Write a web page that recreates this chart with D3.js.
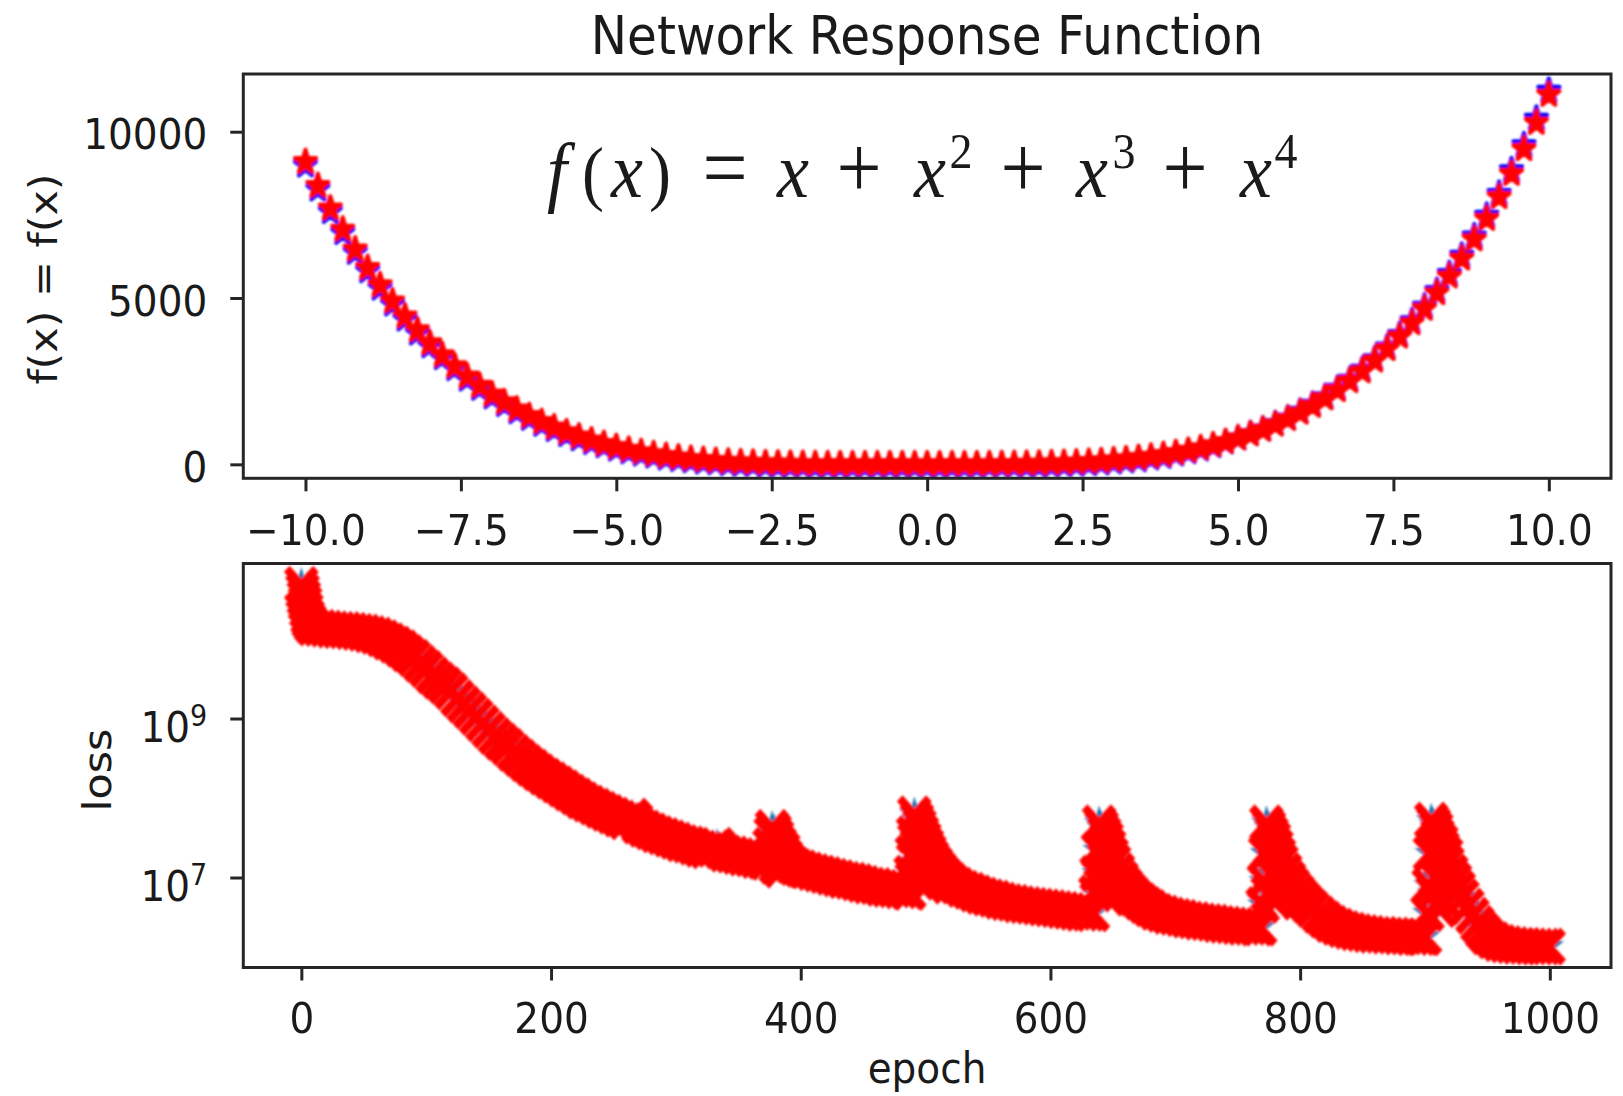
<!DOCTYPE html>
<html>
<head>
<meta charset="utf-8">
<script src="https://cdn.jsdelivr.net/npm/d3@7"></script>
<style>
  html, body { margin: 0; padding: 0; background: #fff; }
  svg { display: block; }
  text { font-family: "DejaVu Sans", sans-serif; fill: #1a1a1a; }
</style>
</head>
<body>
<div id="chart"></div>
<script>
// ---- data ----
const xValues = [-10, -9.8, -9.6, -9.4, -9.2, -9, -8.8, -8.6, -8.4, -8.2, -8, -7.8, -7.6, -7.4, -7.2, -7, -6.8, -6.6, -6.4, -6.2,
  -6, -5.8, -5.6, -5.4, -5.2, -5, -4.8, -4.6, -4.4, -4.2, -4, -3.8, -3.6, -3.4, -3.2, -3, -2.8, -2.6, -2.4, -2.2,
  -2, -1.8, -1.6, -1.4, -1.2, -1, -0.8, -0.6, -0.4, -0.2, 0, 0.2, 0.4, 0.6, 0.8, 1, 1.2, 1.4, 1.6, 1.8,
  2, 2.2, 2.4, 2.6, 2.8, 3, 3.2, 3.4, 3.6, 3.8, 4, 4.2, 4.4, 4.6, 4.8, 5, 5.2, 5.4, 5.6, 5.8,
  6, 6.2, 6.4, 6.6, 6.8, 7, 7.2, 7.4, 7.6, 7.8, 8, 8.2, 8.4, 8.6, 8.8, 9, 9.2, 9.4, 9.6, 9.8, 10]

// red stars
const fTarget = [9090, 8369, 7691, 7056, 6461, 5904, 5384, 4899, 4448, 4029, 3640, 3280, 2947, 2641, 2359, 2100, 1863, 1647, 1450, 1272,
  1110, 964, 834, 717, 612, 520, 438, 367, 305, 251, 204, 164, 131, 102, 79, 60, 45, 32, 23, 15,
  10, 6, 3, 2, 1, 0, 0, 0, 0, 0, 0, 0, 1, 1, 2, 4, 6, 10, 15, 21,
  30, 41, 55, 73, 94, 120, 151, 188, 231, 282, 340, 407, 484, 571, 669, 780, 904, 1042, 1196, 1366,
  1554, 1761, 1987, 2235, 2506, 2800, 3120, 3466, 3841, 4245, 4680, 5147, 5650, 6189, 6765, 7380, 8036, 8736, 9480, 10271, 11110]

// blue stars (network output)
const fNetwork = [8990, 8270, 7590, 6960, 6370, 5810, 5290, 4810, 4360, 3940, 3560, 3200, 2870, 2560, 2280, 2020, 1790, 1570, 1380, 1200,
  1040, 890, 760, 650, 550, 450, 370, 300, 240, 180, 140, 100, 60, 40, 10, -10, -20, -40, -50, -60,
  -60, -70, -70, -70, -70, -70, -70, -70, -70, -70, -70, -70, -70, -70, -70, -60, -60, -60, -60, -50,
  -40, -30, -10, 10, 30, 60, 90, 130, 180, 230, 300, 370, 450, 550, 660, 780, 910, 1050, 1210, 1380,
  1580, 1790, 2020, 2270, 2540, 2840, 3160, 3510, 3890, 4300, 4740, 5210, 5720, 6270, 6850, 7470, 8130, 8840, 9590, 10390, 11230]

const epochs = [0, 1, 2, 3, 4, 5, 6, 8, 10, 15, 20, 25, 30, 35, 40, 45, 50, 55, 60, 65,
  70, 75, 80, 85, 90, 95, 100, 105, 110, 115, 120, 125, 130, 135, 140, 145, 150, 155, 160, 165,
  170, 175, 180, 185, 190, 195, 200, 205, 210, 215, 220, 225, 230, 235, 240, 245, 250, 255, 260, 265,
  268, 270, 275, 280, 285, 290, 295, 300, 305, 310, 315, 320, 325, 330, 333, 336, 340, 345, 350, 355,
  360, 365, 370, 373, 375, 376, 377, 378, 379, 380, 381, 383, 384, 386, 388, 390, 393, 396, 400, 405,
  410, 415, 420, 425, 430, 435, 440, 445, 450, 455, 460, 465, 470, 475, 480, 485, 487, 488, 489, 490,
  491, 492, 493, 494, 495, 496, 497, 499, 500, 501, 503, 504, 505, 508, 511, 514, 517, 520, 525, 530,
  535, 540, 545, 550, 555, 560, 565, 570, 575, 580, 585, 590, 595, 600, 605, 610, 615, 620, 625, 630,
  634, 636, 637, 638, 639, 640, 641, 642, 643, 645, 646, 647, 649, 650, 651, 654, 657, 660, 664, 668,
  672, 676, 680, 685, 690, 695, 700, 705, 710, 715, 720, 725, 730, 735, 740, 745, 750, 755, 760, 765,
  768, 770, 771, 772, 773, 774, 775, 776, 777, 779, 780, 781, 783, 784, 785, 788, 791, 794, 798, 802,
  806, 810, 815, 820, 825, 830, 835, 840, 845, 850, 855, 860, 865, 870, 875, 880, 885, 890, 895, 898,
  900, 902, 903, 904, 905, 906, 907, 908, 909, 910, 912, 913, 914, 916, 917, 918, 921, 924, 927, 930,
  934, 938, 942, 946, 950, 955, 960, 965, 970, 975, 980, 985, 990, 995, 999]

const loss = [4.8e10, 4.0e10, 3.3e10, 2.8e10, 2.3e10, 1.9e10, 1.7e10, 1.5e10, 1.4e10, 1.38e10, 1.35e10, 1.32e10, 1.3e10, 1.29e10, 1.26e10, 1.23e10, 1.2e10, 1.15e10, 1.1e10, 1.02e10,
  9.3e9, 8.5e9, 7.6e9, 6.6e9, 5.8e9, 4.9e9, 4.2e9, 3.5e9, 3.0e9, 2.6e9, 2.2e9, 1.8e9, 1.5e9, 1.26e9, 1.05e9, 8.7e8, 7.2e8, 6.0e8, 5.1e8, 4.4e8,
  3.7e8, 3.2e8, 2.75e8, 2.4e8, 2.1e8, 1.86e8, 1.66e8, 1.48e8, 1.32e8, 1.17e8, 1.05e8, 9.3e7, 8.5e7, 7.8e7, 7.1e7, 6.5e7, 6.0e7, 5.5e7, 5.1e7, 5.8e7,
  5.2e7, 4.5e7, 4.1e7, 3.8e7, 3.5e7, 3.3e7, 3.1e7, 2.9e7, 2.7e7, 2.6e7, 2.45e7, 2.3e7, 2.2e7, 2.3e7, 2.5e7, 2.2e7, 2.0e7, 1.95e7, 1.86e7, 1.78e7,
  1.74e7, 1.66e7, 1.62e7, 1.58e7, 2.5e7, 3.5e7, 4.2e7, 2.0e7, 3.8e7, 1.4e7, 3.2e7, 2.6e7, 1.26e7, 2.2e7, 1.8e7, 1.58e7, 1.45e7, 1.35e7, 1.3e7, 1.23e7,
  1.17e7, 1.12e7, 1.07e7, 1.02e7, 9.8e6, 9.3e6, 9.1e6, 8.7e6, 8.3e6, 7.9e6, 7.8e6, 7.4e6, 7.2e6, 7.1e6, 6.9e6, 6.8e6, 6.6e6, 1.12e7, 2.0e7, 3.5e7,
  6.2e7, 1.58e7, 5.2e7, 8.9e6, 4.4e7, 1.26e7, 3.6e7, 3.0e7, 7.9e6, 2.5e7, 2.1e7, 1.0e7, 1.78e7, 1.48e7, 1.26e7, 1.1e7, 9.8e6, 8.9e6, 7.9e6, 7.2e6,
  6.8e6, 6.3e6, 5.9e6, 5.6e6, 5.4e6, 5.1e6, 4.9e6, 4.8e6, 4.6e6, 4.5e6, 4.4e6, 4.3e6, 4.2e6, 4.1e6, 4.0e6, 3.9e6, 3.8e6, 3.7e6, 3.6e6, 3.6e6,
  3.55e6, 6.3e6, 1.12e7, 2.2e7, 4.8e7, 7.9e6, 4.2e7, 1.26e7, 3.5e7, 3.0e7, 5.6e6, 2.4e7, 1.9e7, 7.1e6, 1.55e7, 1.2e7, 9.5e6, 7.9e6, 6.6e6, 5.6e6,
  5.0e6, 4.5e6, 4.1e6, 3.7e6, 3.5e6, 3.3e6, 3.2e6, 3.1e6, 2.95e6, 2.9e6, 2.8e6, 2.75e6, 2.7e6, 2.6e6, 2.55e6, 2.5e6, 2.45e6, 2.4e6, 2.4e6, 2.35e6,
  2.35e6, 4.5e6, 8.9e6, 2.0e7, 4.8e7, 6.3e6, 4.2e7, 1.12e7, 3.5e7, 3.0e7, 5.0e6, 2.4e7, 1.9e7, 6.3e6, 1.55e7, 1.2e7, 9.5e6, 7.9e6, 6.5e6, 5.4e6,
  4.6e6, 4.0e6, 3.4e6, 2.95e6, 2.6e6, 2.4e6, 2.24e6, 2.14e6, 2.05e6, 2.0e6, 1.95e6, 1.9e6, 1.9e6, 1.86e6, 1.86e6, 1.82e6, 1.82e6, 1.78e6, 1.78e6, 1.78e6,
  1.78e6, 3.55e6, 7.9e6, 2.0e7, 5.2e7, 6.3e6, 4.6e7, 1.0e7, 4.0e7, 3.3e7, 4.0e6, 2.75e7, 2.3e7, 5.0e6, 1.9e7, 1.48e7, 1.15e7, 9.1e6, 7.2e6, 5.6e6,
  4.3e6, 3.3e6, 2.6e6, 2.14e6, 1.82e6, 1.62e6, 1.5e6, 1.45e6, 1.41e6, 1.38e6, 1.38e6, 1.36e6, 1.35e6, 1.35e6, 1.35e6]

const xTicks = [-10, -7.5, -5, -2.5, 0, 2.5, 5, 7.5, 10]
const fTicks = [0, 5000, 10000]
const epochTicks = [0, 200, 400, 600, 800, 1000]
const lossTicks = [1e7, 1e9]

// ---- layout ----
const width = 1623
const height = 1096
const stretch = 1.1   // the picture is taller than it is wide by this factor
const p1 = {left: 243.3, right: 1611, top: 74, bottom: 478.3}
const p2 = {left: 243.3, right: 1611, top: 563.5, bottom: 967.5}
const ink = "#262626"

const x1 = d3.scaleLinear().domain([-11, 11]).range([p1.left, p1.right])
const y1 = d3.scaleLinear().domain([-420, 11735]).range([p1.bottom, p1.top])
const x2 = d3.scaleLinear().domain([-46.5, 1049]).range([p2.left, p2.right])
const y2 = d3.scaleLog().domain([Math.pow(10, 5.868), Math.pow(10, 10.95)]).range([p2.bottom, p2.top])

const svg = d3.select("#chart").append("svg")
    .attr("width", width)
    .attr("height", height)
    .attr("viewBox", [0, 0, width, height])

const defs = svg.append("defs")
defs.append("clipPath").attr("id", "clip1").append("rect")
    .attr("x", p1.left).attr("y", p1.top).attr("width", p1.right - p1.left).attr("height", p1.bottom - p1.top)
defs.append("clipPath").attr("id", "clip2").append("rect")
    .attr("x", p2.left).attr("y", p2.top).attr("width", p2.right - p2.left).attr("height", p2.bottom - p2.top)
// the source picture is an enlarged raster, so its marks are soft
defs.append("filter").attr("id", "soft").attr("x", "-5%").attr("y", "-5%").attr("width", "110%").attr("height", "110%")
  .append("feGaussianBlur").attr("stdDeviation", 1.1)

const star = s => d3.symbol().type(d3.symbolStar).size(s)()
const cross = s => d3.symbol().type(d3.symbolX || d3.symbolCross).size(s)()

// ---- top panel: network response ----
const responseG = svg.append("g").attr("clip-path", "url(#clip1)")
  .append("g").attr("filter", "url(#soft)")
responseG.append("g").selectAll("path")
  .data(xValues.map((x, i) => [x, fNetwork[i]]))
  .join("path")
    .attr("d", star(140))
    .attr("fill", "#0000ff")
    .attr("stroke", "#0000ff")
    .attr("stroke-width", 4)
    .attr("stroke-linejoin", "round")
    .attr("transform", d => `translate(${x1(d[0])},${y1(d[1])}) scale(1,${stretch})`)
responseG.append("g").selectAll("path")
  .data(xValues.map((x, i) => [x, fTarget[i]]))
  .join("path")
    .attr("d", star(140))
    .attr("fill", "#ff0000")
    .attr("stroke", "#ff0000")
    .attr("stroke-width", 4)
    .attr("stroke-linejoin", "round")
    .attr("transform", d => `translate(${x1(d[0])},${y1(d[1])}) scale(1,${stretch})`)

// ---- bottom panel: loss ----
const lossG = svg.append("g").attr("clip-path", "url(#clip2)")
  .append("g").attr("filter", "url(#soft)")
const lossData = epochs.map((e, i) => [e, loss[i]])
lossG.append("g").selectAll("path")
  .data(lossData)
  .join("path")
    .attr("d", star(300))
    .attr("fill", "#1f77b4")
    .attr("transform", d => `translate(${x2(d[0])},${y2(d[1])}) scale(1,${stretch})`)
lossG.append("g").selectAll("path")
  .data(lossData)
  .join("path")
    .attr("d", cross(560))
    .attr("fill", "none")
    .attr("stroke", "#ff0000")
    .attr("stroke-width", 8)
    .attr("transform", d => `translate(${x2(d[0])},${y2(d[1])}) scale(1,${stretch})`)

// ---- axes ----
function styleAxis(g) {
  g.attr("font-family", "DejaVu Sans, sans-serif").attr("font-size", 39).attr("color", ink)
  g.select(".domain").remove()
  g.selectAll(".tick line").attr("stroke-width", 3)
}

svg.append("g")
    .attr("transform", `translate(0,${p1.bottom})`)
    .call(d3.axisBottom(x1).tickValues(xTicks).tickSize(13).tickFormat(d3.format(".1f")))
    .call(styleAxis)
    .call(g => g.selectAll(".tick text").attr("y", null).attr("dy", null)
      .attr("transform", `translate(0,67) scale(1,${stretch})`))

svg.append("g")
    .attr("transform", `translate(${p1.left},0)`)
    .call(d3.axisLeft(y1).tickValues(fTicks).tickSize(13).tickFormat(d3.format("d")))
    .call(styleAxis)
    .call(g => g.selectAll(".tick text").attr("x", null).attr("dy", null)
      .attr("transform", `translate(-36,17) scale(1,${stretch})`))

svg.append("g")
    .attr("transform", `translate(0,${p2.bottom})`)
    .call(d3.axisBottom(x2).tickValues(epochTicks).tickSize(13).tickFormat(d3.format("d")))
    .call(styleAxis)
    .call(g => g.selectAll(".tick text").attr("y", null).attr("dy", null)
      .attr("transform", `translate(0,65) scale(1,${stretch})`))

svg.append("g")
    .attr("transform", `translate(${p2.left},0)`)
    .call(d3.axisLeft(y2).tickValues(lossTicks).tickSize(13).tickFormat(() => ""))
    .call(styleAxis)
    .call(g => g.selectAll(".tick text").attr("x", null).attr("dy", null)
      .attr("transform", `translate(-36,23) scale(1,${stretch})`)
      .each(function(d) {
        const t = d3.select(this)
        t.append("tspan").text("10")
        t.append("tspan").attr("dy", -15).attr("font-size", 27).text(Math.round(Math.log10(d)))
      }))

// frames
for (const p of [p1, p2]) {
  svg.append("rect")
      .attr("x", p.left).attr("y", p.top)
      .attr("width", p.right - p.left).attr("height", p.bottom - p.top)
      .attr("fill", "none").attr("stroke", ink).attr("stroke-width", 3)
}

// ---- texts ----
svg.append("text")
    .attr("transform", `translate(927,54) scale(1,${stretch})`)
    .attr("text-anchor", "middle")
    .attr("font-size", 48.5)
    .text("Network Response Function")

svg.append("text")
    .attr("transform", `translate(57,279) scale(1,${stretch}) rotate(-90)`)
    .attr("text-anchor", "middle")
    .attr("font-size", 39)
    .text("f(x) = f(x)")

svg.append("text")
    .attr("transform", `translate(111,770) scale(1,${stretch}) rotate(-90)`)
    .attr("text-anchor", "middle")
    .attr("font-size", 39)
    .text("loss")

svg.append("text")
    .attr("transform", `translate(927,1083) scale(1,${stretch})`)
    .attr("text-anchor", "middle")
    .attr("font-size", 39)
    .text("epoch")

// formula, set in a serif face; each token centred where it sits in the picture
const formula = svg.append("text")
    .attr("transform", `translate(0,197) scale(1,${stretch})`)
    .attr("text-anchor", "middle")
    .attr("font-size", 66)
    .style("font-family", "'Liberation Serif', 'DejaVu Serif', serif")
const tokens = [
  ["f", "i", 557], ["(", "", 593], ["x", "i", 627], [")", "", 660], ["=", "", 725],
  ["x", "i", 793], ["+", "", 859], ["x", "i", 930], ["2", "s", 961],
  ["+", "", 1023], ["x", "i", 1092], ["3", "s", 1124], ["+", "", 1185], ["x", "i", 1256], ["4", "s", 1286]
]
for (const [s, kind, cx] of tokens) {
  const t = formula.append("tspan").attr("x", cx).attr("y", 0).text(s)
  if (kind === "i") t.style("font-style", "italic").attr("font-size", 72)
  if (kind === "s") t.attr("font-size", 46).attr("y", -26)
  if (s === "=" || s === "+") t.attr("font-size", 80)
}
</script>
</body>
</html>
